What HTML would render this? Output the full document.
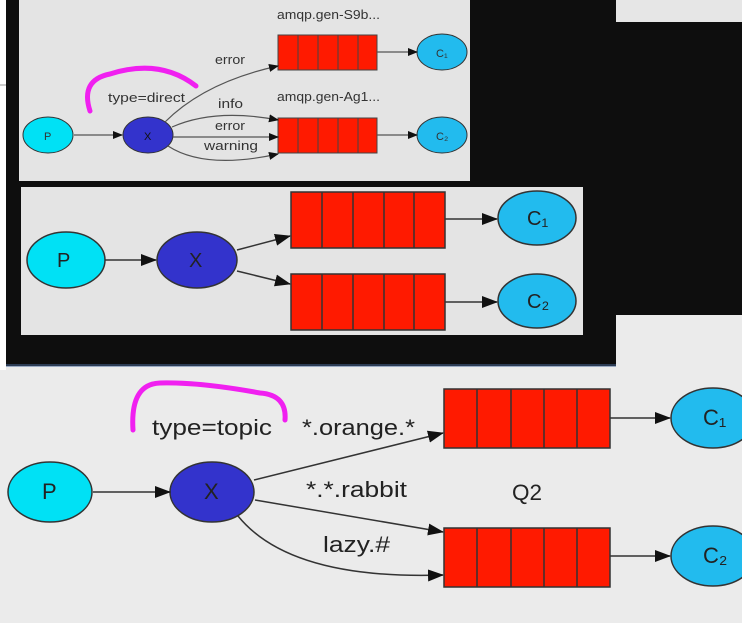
<!DOCTYPE html>
<html><head><meta charset="utf-8"><style>
html,body{margin:0;padding:0;background:#ebebeb;}
svg{display:block;font-family:"Liberation Sans","DejaVu Sans",sans-serif;}
</style></head><body>
<svg width="742" height="623" viewBox="0 0 742 623">
<defs>
<marker id="a" markerWidth="10" markerHeight="8" refX="9" refY="4" orient="auto" markerUnits="userSpaceOnUse"><path d="M0,0L10,4L0,8z" fill="#111"/></marker>
<marker id="b" markerWidth="16" markerHeight="12" refX="15" refY="6" orient="auto" markerUnits="userSpaceOnUse"><path d="M0,0L16,6L0,12z" fill="#111"/></marker>
</defs>
<rect width="742" height="623" fill="#ebebeb"/>
<rect x="0" y="0" width="6" height="370" fill="#fff"/>
<line x1="0" y1="85" x2="6" y2="85" stroke="#999"/>
<rect x="615" y="0" width="127" height="22" fill="#e6e6e6"/>
<rect x="615" y="22" width="127" height="293" fill="#0e0e0e"/>
<rect x="6" y="0" width="610" height="366" fill="#0e0e0e"/>
<rect x="6" y="364" width="610" height="3" fill="#4a6a9a" opacity="0.5"/>
<!-- top panel -->
<rect x="19" y="0" width="451" height="181" fill="#e4e4e4"/>
<g stroke="#333" stroke-width="1">
<ellipse cx="48" cy="135" rx="25" ry="18" fill="#00e1f5"/>
<ellipse cx="148" cy="135" rx="25" ry="18" fill="#3333cc"/>
<ellipse cx="442" cy="52" rx="25" ry="18" fill="#22bbee"/>
<ellipse cx="442" cy="135" rx="25" ry="18" fill="#22bbee"/>
</g>
<g fill="#ff1a00" stroke="#444">
<rect x="278" y="35" width="99" height="35"/><rect x="278" y="118" width="99" height="35"/>
</g>
<g stroke="#444"><path d="M298,35v35M318,35v35M338,35v35M358,35v35M298,118v35M318,118v35M338,118v35M358,118v35"/></g>
<g stroke="#555" fill="none" stroke-width="1.2">
<path d="M74,135H122" marker-end="url(#a)"/>
<path d="M165,122Q205,82 278,66" marker-end="url(#a)"/>
<path d="M172,127Q215,108 278,120" marker-end="url(#a)"/>
<path d="M173,137L278,137" marker-end="url(#a)"/>
<path d="M168,146Q205,170 278,154" marker-end="url(#a)"/>
<path d="M377,52H417" marker-end="url(#a)"/>
<path d="M377,135H417" marker-end="url(#a)"/>
</g>
<g font-size="13" fill="#333">
<text x="44" y="140" font-size="11">P</text><text x="144" y="140" font-size="11" fill="#111">X</text>
<text x="436" y="57" font-size="11">C₁</text><text x="436" y="140" font-size="11">C₂</text>
<text x="277" y="19" textLength="103" lengthAdjust="spacingAndGlyphs">amqp.gen-S9b...</text><text x="277" y="101" textLength="103" lengthAdjust="spacingAndGlyphs">amqp.gen-Ag1...</text>
<text x="215" y="64" textLength="30" lengthAdjust="spacingAndGlyphs">error</text><text x="108" y="102" textLength="77" lengthAdjust="spacingAndGlyphs">type=direct</text>
<text x="218" y="108" textLength="25" lengthAdjust="spacingAndGlyphs">info</text><text x="215" y="130" textLength="30" lengthAdjust="spacingAndGlyphs">error</text><text x="204" y="150" textLength="54" lengthAdjust="spacingAndGlyphs">warning</text>
</g>
<path d="M90,111Q80,80 110,74Q160,58 196,86" stroke="#f020f0" stroke-width="5" fill="none" stroke-linecap="round"/>
<!-- middle panel -->
<rect x="21" y="187" width="562" height="148" fill="#e4e4e4"/>
<g stroke="#333" stroke-width="1.5">
<ellipse cx="66" cy="260" rx="39" ry="28" fill="#00e1f5"/>
<ellipse cx="197" cy="260" rx="40" ry="28" fill="#3333cc"/>
<ellipse cx="537" cy="218" rx="39" ry="27" fill="#22bbee"/>
<ellipse cx="537" cy="301" rx="39" ry="27" fill="#22bbee"/>
</g>
<g fill="#ff1a00" stroke="#333" stroke-width="1.5">
<rect x="291" y="192" width="154" height="56"/><rect x="291" y="274" width="154" height="56"/>
</g>
<g stroke="#333" stroke-width="1.5"><path d="M322,192v56M353,192v56M384,192v56M414,192v56M322,274v56M353,274v56M384,274v56M414,274v56"/></g>
<g stroke="#333" fill="none" stroke-width="1.5">
<path d="M105,260H156" marker-end="url(#b)"/>
<path d="M237,250L290,236" marker-end="url(#b)"/>
<path d="M237,271L290,284" marker-end="url(#b)"/>
<path d="M445,219H497" marker-end="url(#b)"/>
<path d="M445,302H497" marker-end="url(#b)"/>
</g>
<g font-size="20" fill="#222">
<text x="57" y="267">P</text><text x="189" y="267">X</text>
<text x="527" y="225">C₁</text><text x="527" y="308">C₂</text>
</g>
<!-- bottom -->
<g stroke="#333" stroke-width="1.5">
<ellipse cx="50" cy="492" rx="42" ry="30" fill="#00e1f5"/>
<ellipse cx="212" cy="492" rx="42" ry="30" fill="#3333cc"/>
<ellipse cx="713" cy="418" rx="42" ry="30" fill="#22bbee"/>
<ellipse cx="713" cy="556" rx="42" ry="30" fill="#22bbee"/>
</g>
<g fill="#ff1a00" stroke="#333" stroke-width="1.5">
<rect x="444" y="389" width="166" height="59"/><rect x="444" y="528" width="166" height="59"/>
</g>
<g stroke="#333" stroke-width="1.5"><path d="M477,389v59M511,389v59M544,389v59M577,389v59M477,528v59M511,528v59M544,528v59M577,528v59"/></g>
<g stroke="#333" fill="none" stroke-width="1.5">
<path d="M93,492H170" marker-end="url(#b)"/>
<path d="M254,480L443,433" marker-end="url(#b)"/>
<path d="M255,500L443,532" marker-end="url(#b)"/>
<path d="M238,516Q290,580 443,575" marker-end="url(#b)"/>
<path d="M610,418H670" marker-end="url(#b)"/>
<path d="M610,556H670" marker-end="url(#b)"/>
</g>
<g font-size="22" fill="#222">
<text x="42" y="499">P</text><text x="204" y="499">X</text>
<text x="703" y="425">C₁</text><text x="703" y="563">C₂</text>
<text x="152" y="435" textLength="120" lengthAdjust="spacingAndGlyphs">type=topic</text>
<text x="302" y="435" textLength="113" lengthAdjust="spacingAndGlyphs">*.orange.*</text>
<text x="306" y="497" textLength="101" lengthAdjust="spacingAndGlyphs">*.*.rabbit</text>
<text x="512" y="500" textLength="30" lengthAdjust="spacingAndGlyphs">Q2</text>
<text x="323" y="552" textLength="67" lengthAdjust="spacingAndGlyphs">lazy.#</text>
</g>
<path d="M133,430Q130,384 160,383Q200,382 260,393Q287,395 285,420" stroke="#f020f0" stroke-width="5" fill="none" stroke-linecap="round"/>
</svg>
</body></html>
